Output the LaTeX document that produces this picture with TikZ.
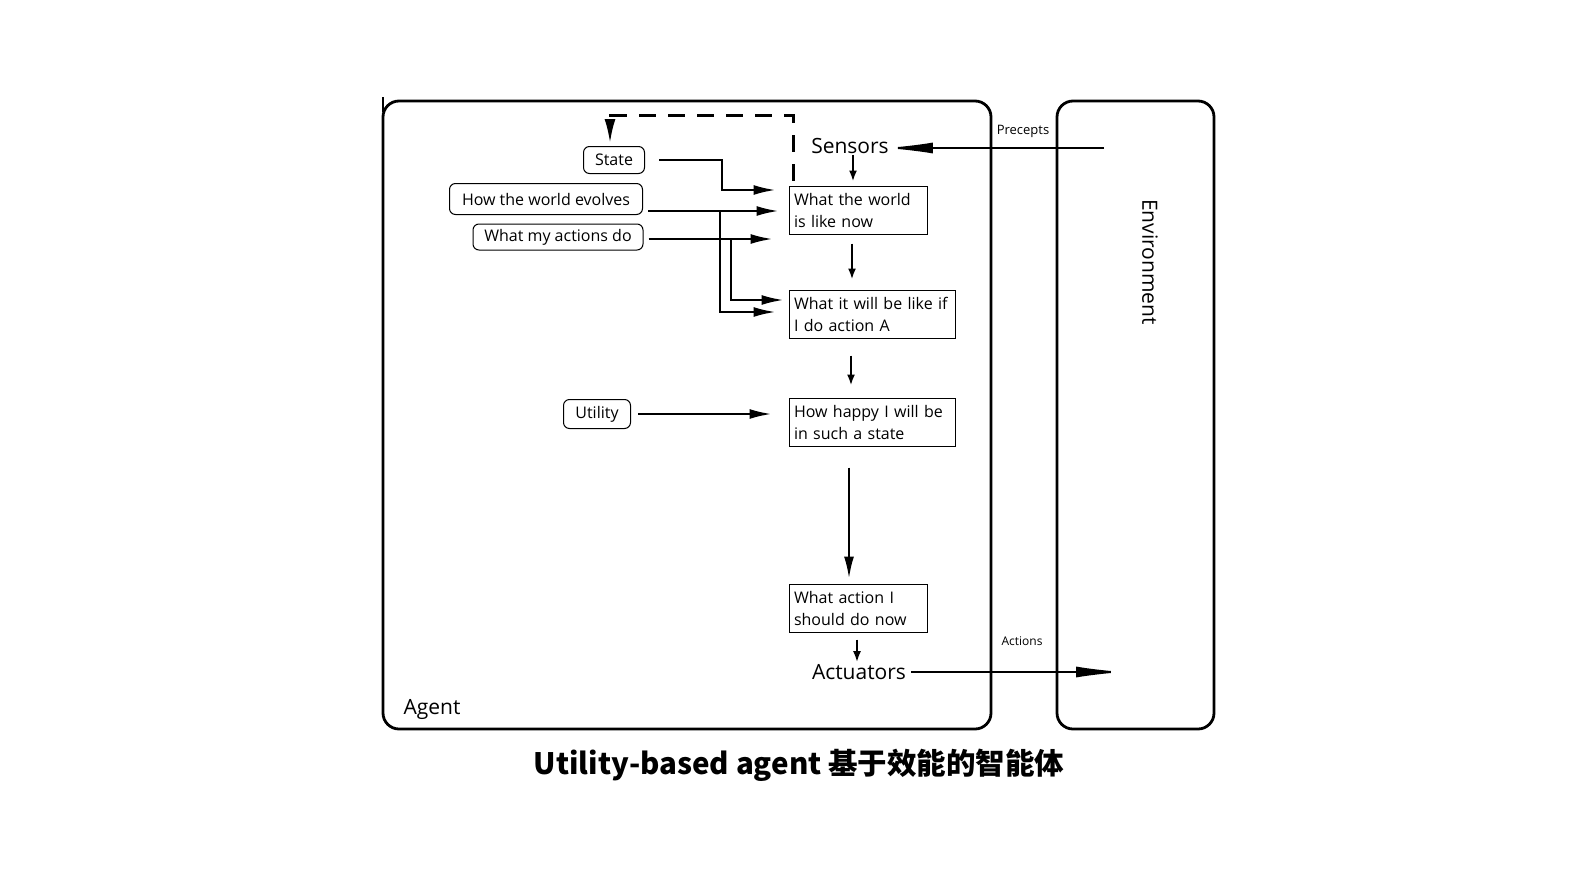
\documentclass[tikz,border=0pt]{standalone}
\usepackage{fontspec}
\setmainfont{Open Sans}
\newfontfamily\cjk{Noto Sans CJK SC}
\usetikzlibrary{arrows.meta,positioning}

\begin{document}
\begin{tikzpicture}[x=1pt,y=-1pt,
    every node/.style={font=\fontsize{16}{22}\selectfont},
    frame/.style={draw,line width=2.8pt,rounded corners=16pt},
    know/.style={draw,line width=1pt,rounded corners=6pt,inner sep=4pt},
    stepbox/.style={draw,line width=1pt,align=left,inner xsep=5pt,inner ysep=3pt,minimum height=48pt},
    arr/.style={line width=2.2pt,-{Latex[length=22pt,width=10pt]}},
    sarr/.style={line width=2pt,-{Latex[length=11pt,width=8pt]}},
    longarr/.style={line width=2pt,-{Latex[length=48pt,width=11pt]}}]
  \useasboundingbox (0,0) rectangle (1592,894);

  % agent and environment
  \draw[frame] (383,101) rectangle (991,729);
  \draw[line width=2pt] (383,97) -- (383,112);
  \draw[frame] (1057,101) rectangle (1214,729);
  \node[font=\fontsize{21}{24}\selectfont] (agent) at (432,709) {Agent};
  \node[font=\fontsize{21}{24}\selectfont,rotate=-90] (env) at (1150,262) {Environment};

  % knowledge
  \node[know,minimum width=61pt,minimum height=27pt] (state) at (614,160) {State};
  \node[know,minimum width=193pt,minimum height=31pt] (evolves) at (546,199) {How the world evolves};
  \node[know,minimum width=170pt,minimum height=26pt] (actions) at (558,237) {What my actions do};
  \node[know,minimum width=67pt,minimum height=29pt] (utility) at (597,414) {Utility};

  % processing steps
  \node[font=\fontsize{21}{24}\selectfont,inner sep=1pt] (sensors) at (850,146) {Sensors};
  \node[stepbox,text width=128pt] (worldnow) at (858,210) {What the world\\is like now};
  \node[stepbox,text width=156pt] (ifaction) at (872,314) {What it will be like if\\I do action A};
  \node[stepbox,text width=156pt] (happy) at (872,422) {How happy I will be\\in such a state};
  \node[stepbox,text width=128pt] (decide) at (858,608) {What action I\\should do now};
  \node[font=\fontsize{21}{24}\selectfont,inner sep=1pt] (actuators) at (859,672) {Actuators};

  \node[font=\fontsize{13}{15}\selectfont] (precepts) at (1023,131) {Precepts};
  \node[font=\fontsize{12}{14}\selectfont] (actlabel) at (1022,641) {Actions};
  \coordinate (envout) at (1104,148);
  \coordinate (envin) at (1124,671);
  \coordinate (evsplit) at (720,211);
  \coordinate (acsplit) at (731,239);

  % connectors
  \draw[longarr,shorten >=-5pt] (envout) -- (sensors.east |- envout);
  \draw[sarr,shorten >=4pt] ([xshift=3pt]sensors.south) -- ([xshift=3pt]sensors.south |- worldnow.north);
  \draw[line width=2.4pt,dash pattern=on 17pt off 12pt,-{Latex[length=24pt,width=11pt]},shorten >=3pt]
    ([xshift=5pt,yshift=5pt]worldnow.north west) -- ++(0,-65) -| ([xshift=-4pt]state.north);
  \draw[arr] ([xshift=14pt]state.east) -| (722,190) -- ([xshift=-13pt,yshift=20pt]worldnow.west);
  \draw[arr] ([xshift=5pt,yshift=-12pt]evolves.east) -- ([xshift=-10pt,yshift=-1pt]worldnow.west);
  \draw[arr] ([xshift=5pt,yshift=-2pt]actions.east) -- ([xshift=-16pt,yshift=-29pt]worldnow.west);
  \draw[arr] (evsplit) |- ([xshift=-13pt,yshift=2pt]ifaction.west);
  \draw[arr] (acsplit) |- ([xshift=-5pt,yshift=14pt]ifaction.west);
  \draw[sarr,shorten <=9pt,shorten >=10pt] ([xshift=-6pt]worldnow.south) -- ([xshift=-6pt]worldnow.south |- ifaction.north);
  \draw[sarr,shorten <=17pt,shorten >=12pt] ([xshift=-21pt]ifaction.south) -- ([xshift=-21pt]ifaction.south |- happy.north);
  \draw[arr] ([xshift=7pt]utility.east) -- ([xshift=-17pt,yshift=8pt]happy.west);
  \draw[arr,shorten <=21pt,shorten >=5pt] ([xshift=-23pt]happy.south) -- ([xshift=-23pt]happy.south |- decide.north);
  \draw[sarr,shorten <=7pt,shorten >=1pt] ([xshift=-1pt]decide.south) -- ([xshift=-1pt]decide.south |- actuators.north);
  \draw[longarr,shorten <=4pt] (actuators.east) -- (actuators.east -| envin);

  % caption
  \node[font=\cjk\bfseries\fontsize{29.5}{36}\selectfont] (caption) at (799,765) {Utility-based agent 基于效能的智能体};
\end{tikzpicture}
\end{document}
